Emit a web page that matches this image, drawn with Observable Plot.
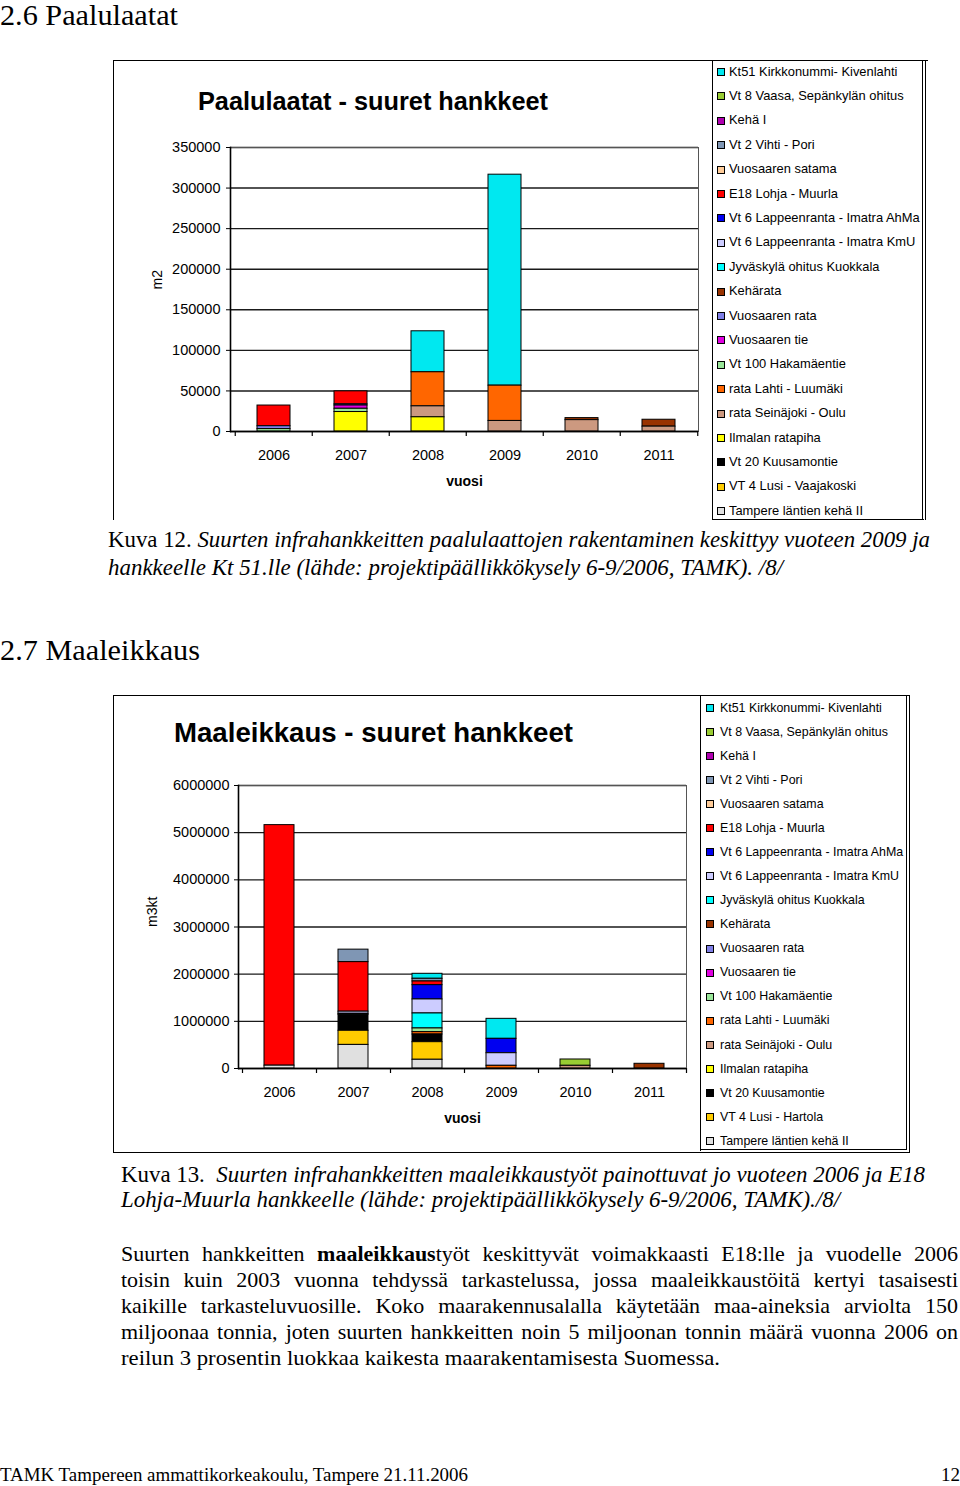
<!DOCTYPE html>
<html>
<head>
<meta charset="utf-8">
<script src="https://cdn.jsdelivr.net/npm/d3@7"></script>
<script src="https://cdn.jsdelivr.net/npm/@observablehq/plot@0.6"></script>
<style>
html, body { margin: 0; padding: 0; background: #fff; }
body { width: 960px; height: 1486px; position: relative; overflow: hidden; }
.abs { position: absolute; white-space: nowrap; color: #000; }
.serif { font-family: "Liberation Serif", "Times New Roman", serif; }
.sans { font-family: "Liberation Sans", Arial, sans-serif; }
.box { position: absolute; box-sizing: border-box; }
</style>
</head>
<body>
<script>
// ---------- DATA ----------
const years = ["2006", "2007", "2008", "2009", "2010", "2011"];

const seriesPaal = ["Kt51 Kirkkonummi- Kivenlahti", "Vt 8 Vaasa, Sepänkylän ohitus", "Kehä I", "Vt 2 Vihti - Pori",
  "Vuosaaren satama", "E18 Lohja - Muurla", "Vt 6 Lappeenranta - Imatra AhMa", "Vt 6 Lappeenranta - Imatra KmU",
  "Jyväskylä ohitus Kuokkala", "Kehärata", "Vuosaaren rata", "Vuosaaren tie", "Vt 100 Hakamäentie",
  "rata Lahti - Luumäki", "rata Seinäjoki - Oulu", "Ilmalan ratapiha", "Vt 20 Kuusamontie",
  "VT 4 Lusi - Vaajakoski", "Tampere läntien kehä II"];

const seriesMaal = ["Kt51 Kirkkonummi- Kivenlahti", "Vt 8 Vaasa, Sepänkylän ohitus", "Kehä I", "Vt 2 Vihti - Pori",
  "Vuosaaren satama", "E18 Lohja - Muurla", "Vt 6 Lappeenranta - Imatra AhMa", "Vt 6 Lappeenranta - Imatra KmU",
  "Jyväskylä ohitus Kuokkala", "Kehärata", "Vuosaaren rata", "Vuosaaren tie", "Vt 100 Hakamäentie",
  "rata Lahti - Luumäki", "rata Seinäjoki - Oulu", "Ilmalan ratapiha", "Vt 20 Kuusamontie",
  "VT 4 Lusi - Hartola", "Tampere läntien kehä II"];

const seriesColors = ["#00E8F0", "#99CC33", "#B000B0", "#7F96B4", "#FFCC99", "#FF0000", "#0000F0", "#CCCCFF",
  "#00FFFF", "#993300", "#7F7FE6", "#E000E0", "#99E699", "#FF6600", "#CC9980", "#FFFF00", "#000000",
  "#FFCC00", "#E0E0E0"];

// Paalulaatat (m2), values per year in legend order
const paal2006 = [0, 0, 0, 0, 0, 25500, 0, 0, 0, 0, 3500, 0, 3000, 0, 0, 0, 0, 0, 0];
const paal2007 = [0, 0, 0, 0, 0, 16000, 0, 0, 0, 0, 1500, 4000, 4000, 0, 0, 24000, 0, 0, 0];
const paal2008 = [50500, 0, 0, 0, 0, 0, 0, 0, 0, 0, 0, 0, 0, 42000, 13500, 17500, 0, 0, 0];
const paal2009 = [260000, 0, 0, 0, 0, 0, 0, 0, 0, 0, 0, 0, 0, 43500, 13000, 0, 0, 0, 0];
const paal2010 = [0, 0, 0, 0, 0, 0, 0, 0, 0, 2500, 0, 0, 0, 0, 14000, 0, 0, 0, 0];
const paal2011 = [0, 0, 0, 0, 0, 0, 0, 0, 0, 8500, 0, 0, 0, 0, 6000, 0, 0, 0, 0];
const paalTicks = [0, 50000, 100000, 150000, 200000, 250000, 300000, 350000];

// Maaleikkaus (m3kt), values per year in legend order
const maal2006 = [0, 0, 0, 0, 0, 5100000, 0, 0, 0, 0, 0, 0, 0, 0, 0, 0, 0, 0, 60000];
const maal2007 = [0, 0, 0, 265000, 0, 1050000, 0, 45000, 0, 0, 0, 0, 20000, 0, 0, 0, 340000, 300000, 500000];
const maal2008 = [106000, 0, 0, 57000, 0, 78000, 303000, 297000, 318000, 0, 0, 0, 78000, 50000, 0, 0, 163000, 373000, 185000];
const maal2009 = [424000, 0, 0, 0, 0, 0, 305000, 267000, 0, 0, 0, 0, 0, 57000, 0, 0, 0, 0, 0];
const maal2010 = [0, 134000, 0, 0, 0, 0, 0, 0, 0, 0, 0, 0, 0, 0, 57000, 0, 0, 0, 0];
const maal2011 = [0, 0, 0, 0, 0, 0, 0, 0, 0, 100000, 0, 0, 0, 0, 0, 0, 0, 0, 0];
const maalTicks = [0, 1000000, 2000000, 3000000, 4000000, 5000000, 6000000];

// Texts
const heading1 = "2.6 Paalulaatat";
const heading2 = "2.7 Maaleikkaus";
const title1 = "Paalulaatat - suuret hankkeet";
const title2 = "Maaleikkaus - suuret hankkeet";
const caption1 = ["Kuva 12. <i>Suurten infrahankkeitten paalulaattojen rakentaminen keskittyy vuoteen 2009 ja</i>",
  "<i>hankkeelle Kt 51.lle (lähde: projektipäällikkökysely 6-9/2006, TAMK). /8/</i>"];
const caption2 = ["Kuva 13.&nbsp; <i>Suurten infrahankkeitten maaleikkaustyöt painottuvat jo vuoteen 2006 ja E18</i>",
  "<i>Lohja-Muurla hankkeelle (lähde: projektipäällikkökysely 6-9/2006, TAMK)./8/</i>"];
const paragraph = [
  "Suurten hankkeitten <b>maaleikkaus</b>työt keskittyvät voimakkaasti E18:lle ja vuodelle 2006",
  "toisin kuin 2003 vuonna tehdyssä tarkastelussa, jossa maaleikkaustöitä kertyi tasaisesti",
  "kaikille tarkasteluvuosille. Koko maarakennusalalla käytetään maa-aineksia arviolta 150",
  "miljoonaa tonnia, joten suurten hankkeitten noin 5 miljoonan tonnin määrä vuonna 2006 on",
  "reilun 3 prosentin luokkaa kaikesta maarakentamisesta Suomessa."];
const footerLeft = "TAMK Tampereen ammattikorkeakoulu, Tampere 21.11.2006";
const footerRight = "12";

// ---------- HELPERS ----------
function addText(html, {left, cy, fs, font = "serif", weight = "normal", width = null}) {
  const d = document.createElement("div");
  d.className = "abs " + font;
  d.style.left = left + "px";
  d.style.top = (cy - fs / 2) + "px";
  d.style.fontSize = fs + "px";
  d.style.lineHeight = fs + "px";
  d.style.fontWeight = weight;
  d.innerHTML = html;
  document.body.appendChild(d);
  if (width) {
    const w = d.getBoundingClientRect().width;
    d.style.transformOrigin = "0 50%";
    d.style.transform = `scaleX(${width / w})`;
  }
  return d;
}
function addJustified(html, {left, cy, fs, width}) {
  const d = addText(html, {left, cy, fs});
  const w = d.getBoundingClientRect().width;
  const spaces = (d.textContent.match(/ /g) || []).length;
  if (w < width && spaces) d.style.wordSpacing = ((width - w) / spaces) + "px";
  else if (w > width) { d.style.transformOrigin = "0 50%"; d.style.transform = `scaleX(${width / w})`; }
}
function addBox(left, top, width, height, css) {
  const d = document.createElement("div");
  d.className = "box";
  Object.assign(d.style, {left: left + "px", top: top + "px", width: width + "px", height: height + "px"}, css);
  document.body.appendChild(d);
}
function addLegend(names, {swLeft, textLeft, cy0, dy, fs}) {
  names.forEach((name, i) => {
    const cy = cy0 + i * dy;
    const sw = document.createElement("div");
    sw.className = "box";
    Object.assign(sw.style, {left: swLeft + "px", top: (cy - 4) + "px", width: "8px", height: "8px",
      border: "1px solid #000", background: seriesColors[i]});
    document.body.appendChild(sw);
    addText(name, {left: textLeft, cy, fs, font: "sans"});
  });
}
function addChart(series, perYear, o) {
  const rows = [];
  perYear.forEach((vals, j) => vals.forEach((v, i) => {
    if (v > 0) rows.push({year: years[j], series: series[i], value: v});
  }));
  const step = (o.bandRange[1] - o.bandRange[0]) / years.length;
  const plotH = o.height - o.mT - o.mB;
  const svg = Plot.plot({
    width: o.width, height: o.height,
    marginLeft: o.mL, marginRight: o.mR, marginTop: o.mT, marginBottom: o.mB,
    style: {background: "transparent", overflow: "visible", fontFamily: "Liberation Sans, Arial, sans-serif",
      fontSize: o.fs + "px", color: "#000"},
    x: {type: "band", domain: years, range: o.bandRange, paddingInner: o.pad, paddingOuter: o.pad / 2},
    y: {domain: [0, o.yMax]},
    color: {domain: series, range: seriesColors},
    marks: [
      Plot.ruleY(o.ticks, {stroke: "#1a1a1a", strokeWidth: 1.4}),
      Plot.frame({stroke: "#555", strokeWidth: 1}),
      Plot.barY(rows, {x: "year", y: "value", fill: "series", stroke: "#000", strokeWidth: 1,
        order: [...series].reverse()}),
      Plot.ruleY([0], {stroke: "#000", strokeWidth: 1.6}),
      Plot.frame({anchor: "left", stroke: "#000", strokeWidth: 1.6}),
      Plot.ruleX(years, {x: d => d, dx: -step / 2, stroke: "#000", strokeWidth: 1.2, insetTop: plotH, insetBottom: -5}),
      Plot.ruleX(years.slice(-1), {x: d => d, dx: step / 2, stroke: "#000", strokeWidth: 1.2, insetTop: plotH, insetBottom: -5}),
      Plot.axisY({ticks: o.ticks, tickSize: 4, tickPadding: o.tickPad, tickFormat: d => String(d),
        label: null, fontSize: o.fs, stroke: "#000"}),
      Plot.axisX({tickSize: 0, tickPadding: 18, label: null, fontSize: o.fs}),
      Plot.text(["vuosi"], {frameAnchor: "bottom", dy: 50, lineAnchor: "middle", fontWeight: "bold", fontSize: 14, fill: "#000"}),
      Plot.text([o.yLabel], {frameAnchor: "left", dx: o.labelDx, rotate: -90, fontSize: 14, fill: "#000"})
    ]
  });
  const holder = document.createElement("div");
  holder.style.position = "absolute";
  holder.style.left = o.left + "px";
  holder.style.top = o.top + "px";
  holder.appendChild(svg);
  document.body.appendChild(holder);
}

// ---------- PAGE ----------
addText(heading1, {left: 0, cy: 15, fs: 29, width: 178});

// Chart 1 frame + legend box
addBox(113, 60, 815, 460, {borderTop: "1.5px solid #000", borderLeft: "1.5px solid #000"});
addBox(712, 60, 214, 460, {borderLeft: "1.5px solid #000", borderRight: "4px double #000", borderBottom: "1.5px solid #000"});
addText(title1, {left: 198, cy: 101, fs: 25, font: "sans", weight: "bold", width: 350});
addChart(seriesPaal, [paal2006, paal2007, paal2008, paal2009, paal2010, paal2011], {
  left: 116, top: 62, width: 596, height: 457, mL: 114, mR: 14, mT: 85, mB: 88,
  bandRange: [117, 582], pad: 0.575, yMax: 350000, ticks: paalTicks, tickPad: 6, fs: 14.5,
  yLabel: "m2", labelDx: -73
});
addLegend(seriesPaal, {swLeft: 717, textLeft: 729, cy0: 72, dy: 24.4, fs: 12.9});

caption1.forEach((t, i) => addText(t, {left: 108, cy: 540 + i * 28, fs: 22.5, width: [822, 675][i]}));

addText(heading2, {left: 0, cy: 650, fs: 29, width: 200});

// Chart 2 frame + legend box
addBox(113, 695, 797, 458, {border: "1.5px solid #000"});
addBox(700, 695, 210, 458, {borderLeft: "1.5px solid #000", borderRight: "4px double #000", borderBottom: "4px double #000"});
addText(title2, {left: 174, cy: 733, fs: 27.5, font: "sans", weight: "bold", width: 399});
addChart(seriesMaal, [maal2006, maal2007, maal2008, maal2009, maal2010, maal2011], {
  left: 116, top: 698, width: 584, height: 454, mL: 122, mR: 14, mT: 87, mB: 84,
  bandRange: [126, 570], pad: 0.6, yMax: 6000000, ticks: maalTicks, tickPad: 5, fs: 14.5,
  yLabel: "m3kt", labelDx: -86
});
addLegend(seriesMaal, {swLeft: 706, textLeft: 720, cy0: 708, dy: 24.05, fs: 12.4});

caption2.forEach((t, i) => addText(t, {left: 121, cy: 1175 + i * 25, fs: 22.5, width: [804, 719][i]}));

paragraph.forEach((t, i) => {
  if (i < paragraph.length - 1) addJustified(t, {left: 121, cy: 1254 + i * 26, fs: 22, width: 837});
  else addText(t, {left: 121, cy: 1254 + i * 26, fs: 22, width: 599});
});

addText(footerLeft, {left: 0, cy: 1474, fs: 19, width: 468});
addText(footerRight, {left: 941, cy: 1474, fs: 19});
</script>
</body>
</html>
